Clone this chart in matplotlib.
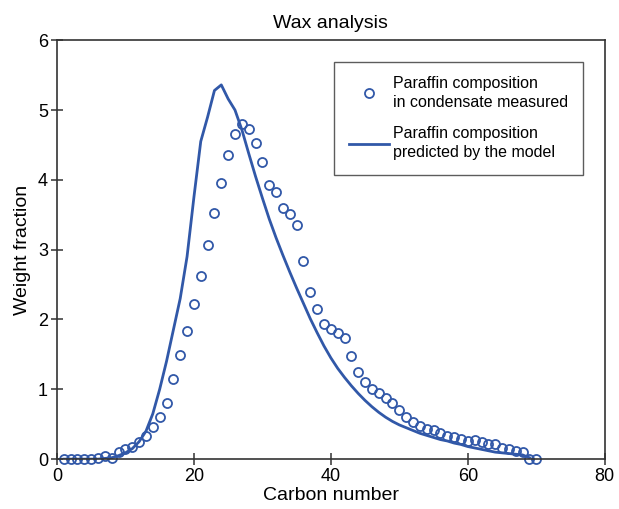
import matplotlib
matplotlib.use('Agg')
import matplotlib.pyplot as plt
import numpy as np

plt.rcParams['font.family'] = ['Liberation Sans', 'DejaVu Sans']

# measured paraffin composition (carbon numbers 1..70)
carbon_measured = list(range(1, 71))
wt_measured = [0.0, 0.0, 0.0, 0.0, 0.0, 0.01, 0.05, 0.02, 0.10, 0.14,
               0.17, 0.24, 0.33, 0.46, 0.61, 0.81, 1.15, 1.49, 1.83, 2.22,
               2.62, 3.06, 3.52, 3.96, 4.36, 4.65, 4.80, 4.73, 4.53, 4.26,
               3.92, 3.82, 3.60, 3.51, 3.36, 2.84, 2.40, 2.15, 1.93, 1.86,
               1.81, 1.74, 1.47, 1.25, 1.11, 1.00, 0.95, 0.88, 0.80, 0.71,
               0.61, 0.53, 0.47, 0.43, 0.41, 0.38, 0.33, 0.31, 0.29, 0.26,
               0.27, 0.24, 0.21, 0.21, 0.16, 0.14, 0.11, 0.10, 0.0, 0.0]

# model prediction (carbon numbers 1..69)
carbon_model = list(range(1, 70))
wt_model = [0.0, 0.0, 0.0, 0.0, 0.0, 0.0, 0.01, 0.02, 0.05, 0.09,
            0.15, 0.25, 0.40, 0.65, 1.00, 1.40, 1.85, 2.30, 2.90, 3.75,
            4.55, 4.90, 5.28, 5.36, 5.16, 5.00, 4.72, 4.38, 4.05, 3.74,
            3.44, 3.17, 2.92, 2.68, 2.45, 2.23, 2.01, 1.81, 1.62, 1.45,
            1.30, 1.17, 1.05, 0.94, 0.84, 0.75, 0.67, 0.60, 0.54, 0.49,
            0.45, 0.41, 0.37, 0.34, 0.31, 0.28, 0.26, 0.23, 0.21, 0.18,
            0.16, 0.14, 0.12, 0.10, 0.09, 0.08, 0.07, 0.06, 0.02]

blue = '#3158a8'

fig = plt.figure(figsize=(6.19, 5.09), dpi=100)
ax = fig.add_axes([0.092, 0.098, 0.885, 0.823])

ax.plot(carbon_measured, wt_measured, 'o', mfc='none', mec=blue, mew=1.3, ms=6.5,
        clip_on=False, label='Paraffin composition\nin condensate measured')
ax.plot(carbon_model, wt_model, '-', color=blue, lw=2.0,
        label='Paraffin composition\npredicted by the model')

ax.set_xlim(0, 80)
ax.set_ylim(0, 6)
ax.set_xticks([0, 20, 40, 60, 80])
ax.set_yticks(range(0, 7))

for s in ax.spines.values():
    s.set_linewidth(1.2)
    s.set_color('#333333')
ax.tick_params(direction='inout', length=9, width=1.1, color='#333333',
               labelsize=13, pad=2)

ax.set_xlabel('Carbon number', fontsize=14, labelpad=1)
ax.set_ylabel('Weight fraction', fontsize=14, labelpad=5)
ax.set_title('Wax analysis', fontsize=14, pad=9)

leg = ax.legend(loc='upper right', bbox_to_anchor=(0.96, 0.949), fontsize=11.5,
                frameon=True, fancybox=False, borderpad=0.9, labelspacing=1.0,
                handlelength=2.5, handletextpad=0.3, borderaxespad=0)
for t in leg.get_texts():
    t.set_linespacing(1.35)
leg.get_frame().set_edgecolor('#333333')
leg.get_frame().set_linewidth(1.0)

fig.savefig('out.png', dpi=100)
